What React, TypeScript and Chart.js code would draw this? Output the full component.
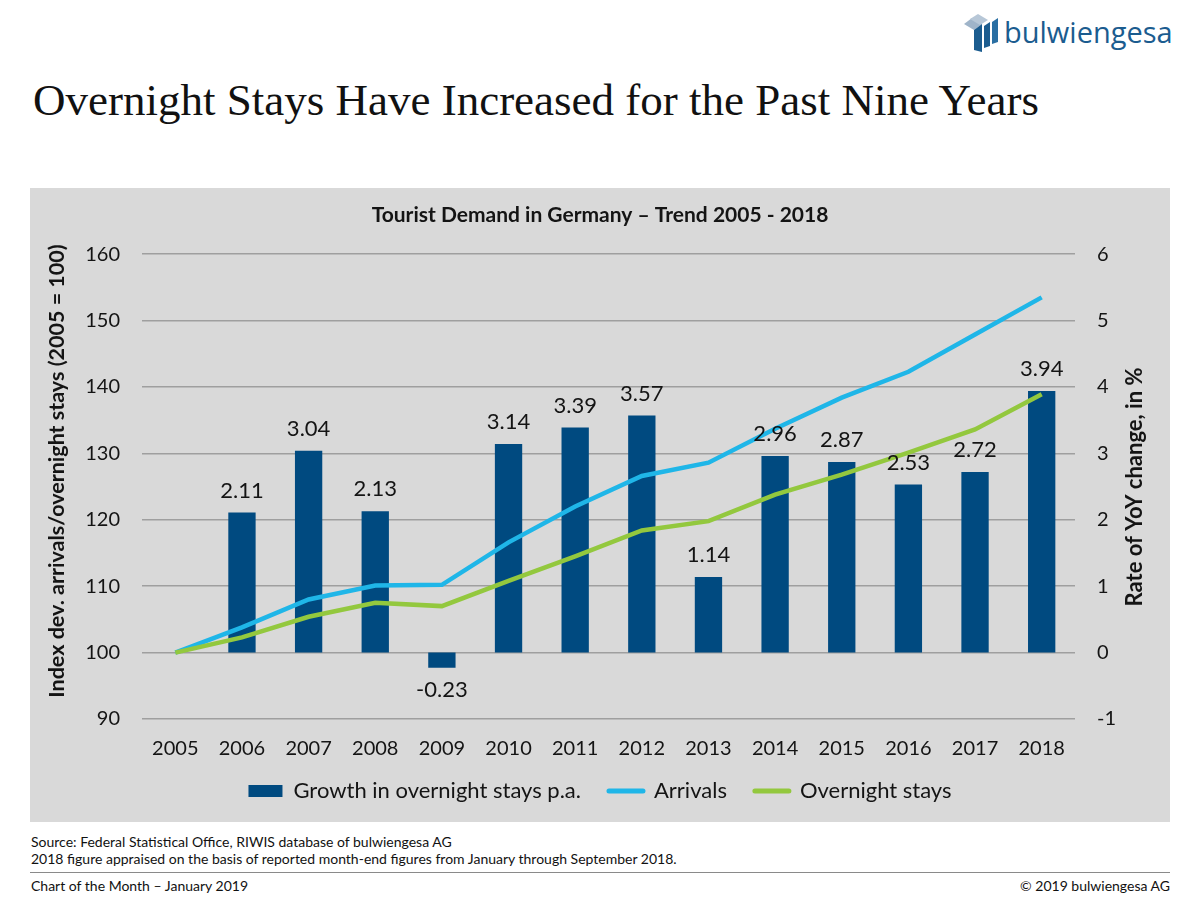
import React, { useEffect, useRef } from 'react';
import { Chart, registerables } from 'chart.js';

Chart.register(...registerables);

// ---------- data ----------
const years = ['2005', '2006', '2007', '2008', '2009', '2010', '2011', '2012', '2013', '2014', '2015', '2016', '2017', '2018'];
const growthOvernightPct = [null, 2.11, 3.04, 2.13, -0.23, 3.14, 3.39, 3.57, 1.14, 2.96, 2.87, 2.53, 2.72, 3.94];
const arrivalsIndex = [100, 103.8, 108.0, 110.1, 110.2, 116.6, 122.0, 126.6, 128.6, 133.7, 138.4, 142.3, 147.9, 153.5];
const overnightIndex = [100, 102.3, 105.4, 107.5, 107.0, 110.8, 114.5, 118.4, 119.8, 123.8, 126.8, 130.1, 133.6, 138.9];
const leftAxisRange = [90, 160];
const rightAxisRange = [-1, 6];
const seriesNames = ['Growth in overnight stays p.a.', 'Arrivals', 'Overnight stays'];

const FONT = 'Lato, "Open Sans", sans-serif';
const BAR = '#004a80';
const BLUE = '#1fb6e8';
const GREEN = '#93c83e';
const TXT = '#141414';

const barLabelsPlugin = {
  id: 'barLabels',
  afterDatasetsDraw(chart: any) {
    const meta = chart.getDatasetMeta(0);
    const ctx = chart.ctx;
    ctx.save();
    ctx.font = `22px ${FONT}`;
    ctx.fillStyle = TXT;
    ctx.textAlign = 'center';
    ctx.textBaseline = 'middle';
    meta.data.forEach((el: any, i: number) => {
      const v = growthOvernightPct[i];
      if (v == null) return;
      const y = v >= 0 ? el.y - 22 : el.y + 22;
      ctx.fillText(v.toFixed(2), el.x, y);
    });
    ctx.restore();
  },
};

const axisTitlesPlugin = {
  id: 'axisTitles',
  afterDraw(chart: any) {
    const ctx = chart.ctx;
    ctx.save();
    ctx.font = `bold 21.5px ${FONT}`;
    ctx.fillStyle = TXT;
    ctx.textAlign = 'center';
    ctx.textBaseline = 'middle';
    ctx.translate(27, 283);
    ctx.rotate(-Math.PI / 2);
    ctx.fillText('Index dev. arrivals/overnight stays (2005 = 100)', 0, 0);
    ctx.restore();
    ctx.save();
    ctx.font = `bold 22px ${FONT}`;
    ctx.fillStyle = TXT;
    ctx.textAlign = 'center';
    ctx.textBaseline = 'middle';
    ctx.translate(1105, 299);
    ctx.rotate(-Math.PI / 2);
    ctx.fillText('Rate of YoY change, in %', 0, 0);
    ctx.restore();
  },
};

function TourismChart() {
  const ref = useRef<HTMLCanvasElement | null>(null);
  useEffect(() => {
    if (!ref.current) return;
    const chart = new Chart(ref.current, {
      type: 'bar',
      data: {
        labels: years,
        datasets: [
          {
            type: 'bar',
            label: seriesNames[0],
            data: growthOvernightPct as any,
            backgroundColor: BAR,
            yAxisID: 'y1',
            barPercentage: 0.41,
            categoryPercentage: 1,
            order: 3,
          },
          {
            type: 'line',
            label: seriesNames[1],
            data: arrivalsIndex,
            borderColor: BLUE,
            backgroundColor: BLUE,
            borderWidth: 4.5,
            pointRadius: 0,
            tension: 0,
            yAxisID: 'y',
            order: 2,
          },
          {
            type: 'line',
            label: seriesNames[2],
            data: overnightIndex,
            borderColor: GREEN,
            backgroundColor: GREEN,
            borderWidth: 4.5,
            pointRadius: 0,
            tension: 0,
            yAxisID: 'y',
            order: 1,
          },
        ] as any,
      },
      options: {
        responsive: false,
        animation: false,
        devicePixelRatio: 1,
        layout: { padding: { left: 0, right: 0, top: 0, bottom: 10 } },
        plugins: {
          tooltip: { enabled: false },
          title: {
            display: true,
            text: 'Tourist Demand in Germany \u2013 Trend 2005 - 2018',
            color: TXT,
            font: { family: FONT, size: 21, weight: 'bold' },
            padding: { top: 15, bottom: 26 },
          },
          legend: {
            display: true,
            position: 'bottom',
            labels: {
              usePointStyle: true,
              pointStyleWidth: 34,
              boxHeight: 12,
              padding: 28,
              color: TXT,
              font: { family: FONT, size: 22 },
              generateLabels: (ch: any) =>
                ch.data.datasets.map((ds: any, i: number) => ({
                  text: ds.label,
                  fillStyle: i === 0 ? BAR : 'rgba(0,0,0,0)',
                  strokeStyle: i === 0 ? BAR : ds.borderColor,
                  lineWidth: i === 0 ? 0 : 5,
                  lineCap: 'round',
                  pointStyle: i === 0 ? 'rect' : 'line',
                  hidden: false,
                  datasetIndex: i,
                  fontColor: TXT,
                })),
            },
          },
        },
        scales: {
          x: {
            grid: { display: false },
            border: { display: false },
            ticks: { color: TXT, font: { family: FONT, size: 20 }, padding: 10, maxRotation: 0, autoSkip: false },
            afterFit: (s: any) => {
              s.height = 33;
              s._computeLabelArea = () => undefined;
            },
          },
          y: {
            position: 'left',
            min: leftAxisRange[0],
            max: leftAxisRange[1],
            ticks: { stepSize: 10, color: TXT, font: { family: FONT, size: 20 }, padding: 22 },
            grid: { color: '#9f9f9f', lineWidth: 1.5, drawTicks: false },
            border: { display: false },
            afterFit: (s: any) => { s.width = 112; },
          },
          y1: {
            position: 'right',
            min: rightAxisRange[0],
            max: rightAxisRange[1],
            ticks: { stepSize: 1, color: TXT, font: { family: FONT, size: 20 }, padding: 22 },
            grid: { display: false, drawTicks: false },
            border: { display: false },
            afterFit: (s: any) => { s.width = 95; },
          },
        },
      } as any,
      plugins: [barLabelsPlugin, axisTitlesPlugin],
    });
    return () => chart.destroy();
  }, []);
  return <canvas ref={ref} width={1140} height={634} style={{ display: 'block', width: 1140, height: 634 }} />;
}

function Logo() {
  return (
    <div style={{ position: 'absolute', left: 962, top: 12, display: 'flex', alignItems: 'center' }}>
      <svg width="42" height="40" viewBox="0 0 42 40">
        <polygon points="2,12 10,6 20,12 12,18" fill="#9fb4c9" />
        <polygon points="8,7 16,2 26,8 18,13" fill="#b7c7d7" />
        <polygon points="12,18 20,12 20,40 12,38" fill="#1b5c8f" />
        <polygon points="22,14 28,10 28,34 22,36" fill="#1b5c8f" />
        <polygon points="30,10 36,6 36,30 30,32" fill="#2a6fa3" />
      </svg>
      <span style={{ fontFamily: '"Open Sans", sans-serif', fontSize: 29, color: '#1b5c8f', marginLeft: 0, lineHeight: '36px' }}>bulwiengesa</span>
    </div>
  );
}

export default function App() {
  return (
    <div style={{ position: 'absolute', left: 0, top: 0, width: 1200, height: 900, background: '#fff' }}>
      <Logo />
      <div style={{ position: 'absolute', left: 33, top: 76, fontFamily: '"Liberation Serif", serif', fontSize: 45, lineHeight: '48px', color: '#111', whiteSpace: 'nowrap' }}>
        Overnight Stays Have Increased for the Past Nine Years
      </div>
      <div style={{ position: 'absolute', left: 30, top: 188, width: 1140, height: 634, background: '#d9d9d9' }}>
        <TourismChart />
      </div>
      <div style={{ position: 'absolute', left: 31, top: 833, fontFamily: FONT, fontSize: 14, lineHeight: '17px', color: '#111' }}>
        <div>Source: Federal Statistical Office, RIWIS database of bulwiengesa AG</div>
        <div>2018 figure appraised on the basis of reported month-end figures from January through September 2018.</div>
      </div>
      <div style={{ position: 'absolute', left: 30, top: 872, width: 1140, height: 0, borderTop: '1.5px solid #8a8a8a' }} />
      <div style={{ position: 'absolute', left: 31, top: 877, fontFamily: FONT, fontSize: 14, lineHeight: '18px', color: '#111' }}>
        Chart of the Month {'\u2013'} January 2019
      </div>
      <div style={{ position: 'absolute', right: 30, top: 877, fontFamily: FONT, fontSize: 14, lineHeight: '18px', color: '#111' }}>
        {'\u00a9'} 2019 bulwiengesa AG
      </div>
    </div>
  );
}
